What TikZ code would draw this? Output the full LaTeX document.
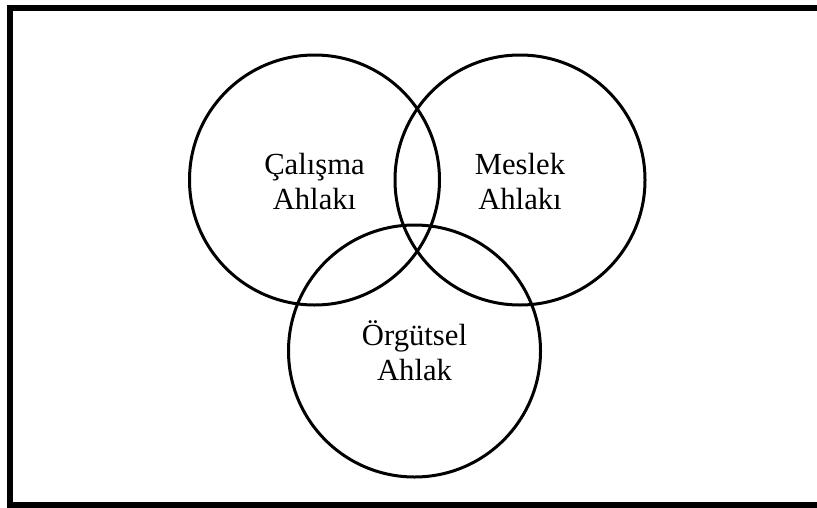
\documentclass[tikz,border=0pt]{standalone}
\usepackage{fontspec}
\setmainfont{Liberation Serif}

\tikzset{every picture/.style={line width=0.75pt}}

\begin{document}
\begin{tikzpicture}[x=0.75pt,y=0.75pt,yscale=-1,xscale=1,
  ring/.style={line width=2.25},
  lbl/.style={align=center,inner sep=0.75pt,font=\fontsize{23}{26.25}\selectfont}]
\useasboundingbox (0,0) rectangle (817,507);
\clip (0,0) rectangle (817,507);

%Shape: Rectangle
\draw [line width=4.5] (10,8) rectangle (860,504.5);

%Shape: Circle
\draw [ring] (314.5,180) circle [radius=125];
%Shape: Circle
\draw [ring] (520,180) circle [radius=125];
%Shape: Circle
\draw [ring] (414.5,351) circle [radius=126];

% Text Node
\draw (314.5,182) node [lbl] (calisma) {Çalışma\\Ahlakı};
% Text Node
\draw (520,182) node [lbl] (meslek) {Meslek\\Ahlakı};
% Text Node
\draw (414.5,351) node [lbl] (orgutsel) {Örgütsel\\Ahlak};

\end{tikzpicture}
\end{document}
